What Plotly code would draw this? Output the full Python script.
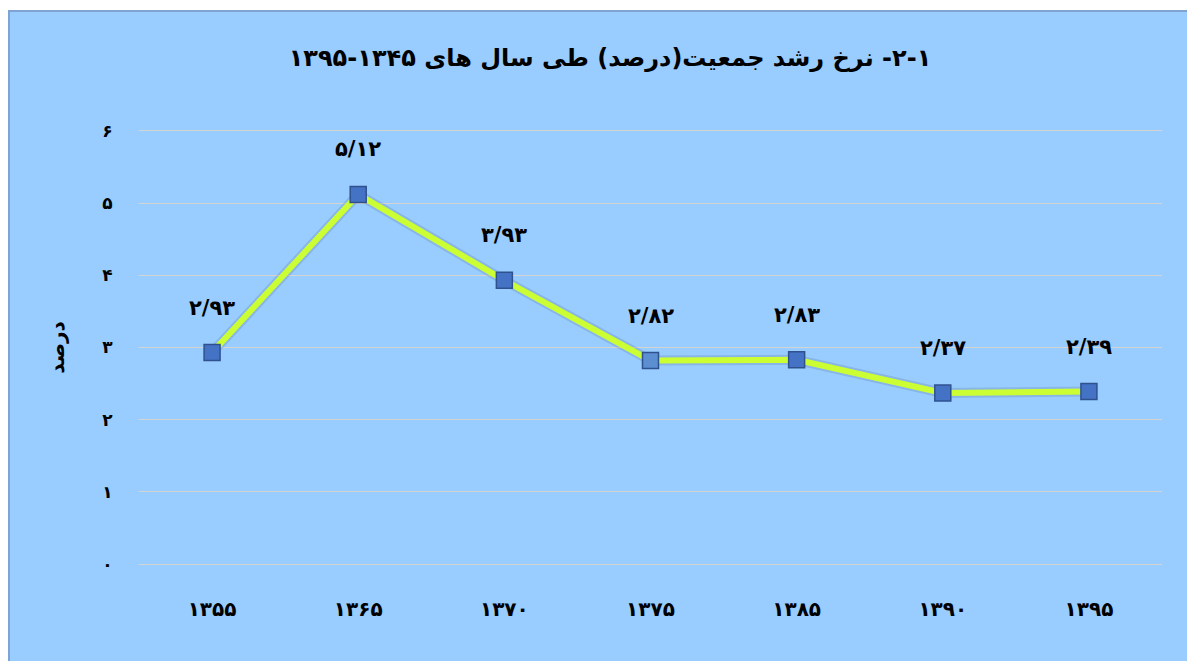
import plotly.graph_objects as go

years = ["۱۳۵۵", "۱۳۶۵", "۱۳۷۰", "۱۳۷۵", "۱۳۸۵", "۱۳۹۰", "۱۳۹۵"]
growth = [2.93, 5.12, 3.93, 2.82, 2.83, 2.37, 2.39]
labels = ["۲/۹۳", "۵/۱۲", "۳/۹۳", "۲/۸۲", "۲/۸۳", "۲/۳۷", "۲/۳۹"]
ytick_vals = [0, 1, 2, 3, 4, 5, 6]
ytick_text = ["۰", "۱", "۲", "۳", "۴", "۵", "۶"]

title_text = "\u202B۱\u200F-۲\u200F- نرخ رشد جمعیت(درصد) طی سال های ۱۳۴۵-۱۳۹۵\u202C"
ytitle = "درصد"

FONT = "DejaVu Sans, Noto Sans, sans-serif"
W, H = 1187, 653
L, R, T, B = 131, 33, 120, 94

fig = go.Figure()

# soft shadow under the line
fig.add_trace(go.Scatter(
    x=years, y=growth, mode="lines",
    line=dict(color="rgba(40,60,90,0.15)", width=10),
    hoverinfo="skip", showlegend=False,
))
marker_colors = ["#4472C4", "#4472C4", "#4472C4", "#5B8FD2", "#4472C4", "#4472C4", "#4472C4"]
fig.add_trace(go.Scatter(
    x=years, y=growth, mode="lines+markers",
    line=dict(color="#CCFF33", width=6),
    marker=dict(symbol="square", size=16, color=marker_colors,
                line=dict(color="#2F528F", width=1.5)),
    showlegend=False,
))

for xv, yv, t in zip(years, growth, labels):
    fig.add_annotation(x=xv, y=yv, text=t, showarrow=False, yshift=45,
                       font=dict(family=FONT, size=21, color="black", weight="bold"))

pw = W - L - R
ph = H - T - B
fig.add_shape(type="rect", xref="paper", yref="paper",
              x0=(1 - L) / pw, x1=(1200 - L) / pw,
              y0=(H - B - 670) / ph, y1=(H - B - 3) / ph,
              fillcolor="#99CCFF", line=dict(color="#7FA3D3", width=2),
              layer="below")

fig.update_layout(
    width=W, height=H,
    margin=dict(l=L, r=R, t=T, b=B),
    paper_bgcolor="white",
    plot_bgcolor="rgba(0,0,0,0)",
    title=dict(text=title_text, x=602 / W, xanchor="center", xref="container",
               y=1 - 50 / H, yanchor="middle", yref="container",
               font=dict(family=FONT, size=24, color="black", weight="bold")),
    xaxis=dict(type="category", range=[-0.5, len(years) - 0.5],
               showgrid=False, zeroline=False, showline=False,
               tickfont=dict(family=FONT, size=20, color="black", weight="bold"),
               ticks="outside", ticklen=24, tickcolor="rgba(0,0,0,0)"),
    yaxis=dict(range=[-0.04, 6.04], tickvals=ytick_vals, ticktext=ytick_text,
               showgrid=True, gridcolor="#D4D4D4", gridwidth=1.3,
               zeroline=False, showline=False,
               tickfont=dict(family=FONT, size=17, color="black", weight="bold"),
               ticks="outside", ticklen=22, tickcolor="rgba(0,0,0,0)",
               title=dict(text=ytitle, standoff=32,
                          font=dict(family=FONT, size=20, color="black", weight="bold"))),
)

fig.write_html("out.html")
